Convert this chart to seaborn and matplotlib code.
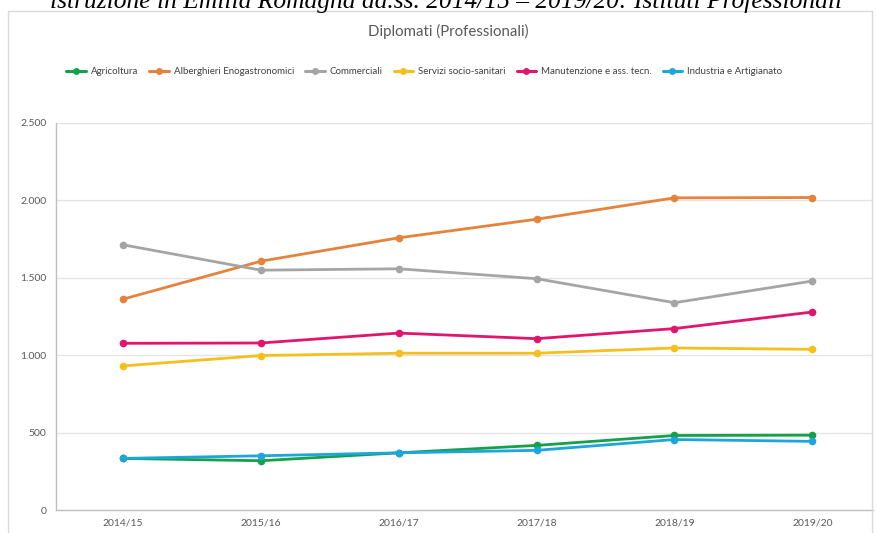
import matplotlib
matplotlib.use("Agg")
import matplotlib.pyplot as plt
import seaborn as sns
import pandas as pd
from matplotlib.patches import Rectangle
from matplotlib.ticker import FuncFormatter

years = ["2014/15", "2015/16", "2016/17", "2017/18", "2018/19", "2019/20"]
series_names = ["Agricoltura", "Alberghieri Enogastronomici", "Commerciali",
                "Servizi socio-sanitari", "Manutenzione e ass. tecn.", "Industria e Artigianato"]
agricoltura = [333, 318, 369, 417, 481, 483]
alberghieri = [1361, 1606, 1757, 1877, 2015, 2017]
commerciali = [1712, 1548, 1557, 1493, 1338, 1478]
servizi = [930, 997, 1012, 1012, 1046, 1037]
manutenzione = [1076, 1078, 1142, 1106, 1171, 1278]
industria = [333, 350, 369, 385, 455, 443]
colors = ["#15A04B", "#E5823C", "#A5A5A5", "#F5C01E", "#E0156E", "#1CA6DC"]

values = [agricoltura, alberghieri, commerciali, servizi, manutenzione, industria]
rows = []
for name, vals in zip(series_names, values):
    for i, (y, v) in enumerate(zip(years, vals)):
        rows.append({"idx": i, "Anno": y, "Serie": name, "Valore": v})
df = pd.DataFrame(rows)

sns.set_style("white")
plt.rcParams['font.family'] = ['Lato', 'DejaVu Sans']

W, H = 877, 533
fig = plt.figure(figsize=(W / 100, H / 100), dpi=100)
fig.patch.set_facecolor("white")

# outer chart frame
fig.patches.append(Rectangle((8 / W, -0.05), (872 - 8) / W, 1.05 - 11 / H,
                             transform=fig.transFigure, fill=False,
                             edgecolor="#D9D9D9", linewidth=1.0))

ax = fig.add_axes([56 / W, (H - 510) / H, (873 - 56) / W, (510 - 122.7) / H])
palette = dict(zip(series_names, colors))
sns.lineplot(data=df, x="idx", y="Valore", hue="Serie", hue_order=series_names,
             palette=palette, marker="o", markersize=5.5, markeredgewidth=0,
             linewidth=2.0, ax=ax, legend=False, sort=False)

ax.set_xlim(-0.486, 5.44)
ax.set_ylim(0, 2500)
ax.set_yticks([0, 500, 1000, 1500, 2000, 2500])
ax.yaxis.set_major_formatter(FuncFormatter(lambda v, p: f"{int(v):,}".replace(",", ".")))
ax.set_xticks(range(len(years)))
ax.set_xticklabels(years)
ax.set_xlabel("")
ax.set_ylabel("")
ax.grid(axis="y", color="#E3E3E3", linewidth=0.9)
ax.set_axisbelow(True)
for s in ["top", "right"]:
    ax.spines[s].set_visible(False)
for s in ["left", "bottom"]:
    ax.spines[s].set_color("#BFBFBF")
    ax.spines[s].set_linewidth(1.0)
ax.tick_params(axis="both", length=0, labelsize=7.5, labelcolor="#595959")
ax.tick_params(axis="x", pad=6)
ax.tick_params(axis="y", pad=7)

# legend
handles = [plt.Line2D([], [], color=c, marker="o", markersize=5, markeredgewidth=0,
                      linewidth=2.2) for c in colors]
fig.legend(handles, series_names, loc="center", bbox_to_anchor=(424.5 / W, 1 - 72 / H),
           ncol=6, frameon=False, fontsize=7, handlelength=2.0, handletextpad=0.55,
           columnspacing=1.1, labelcolor="#404040")

fig.text(448 / W, 1 - 31 / H, "Diplomati (Professionali)", ha="center", va="center",
         fontsize=10.8, color="#595959")

fig.text(446 / W, 1 - 8 / H,
         "istruzione in Emilia Romagna aa.ss. 2014/15 – 2019/20: Istituti Professionali",
         ha="center", va="baseline", fontsize=18.4, style="italic",
         family=["Liberation Serif", "DejaVu Serif"], color="black")

fig.savefig("out.png", dpi=100, facecolor="white")
